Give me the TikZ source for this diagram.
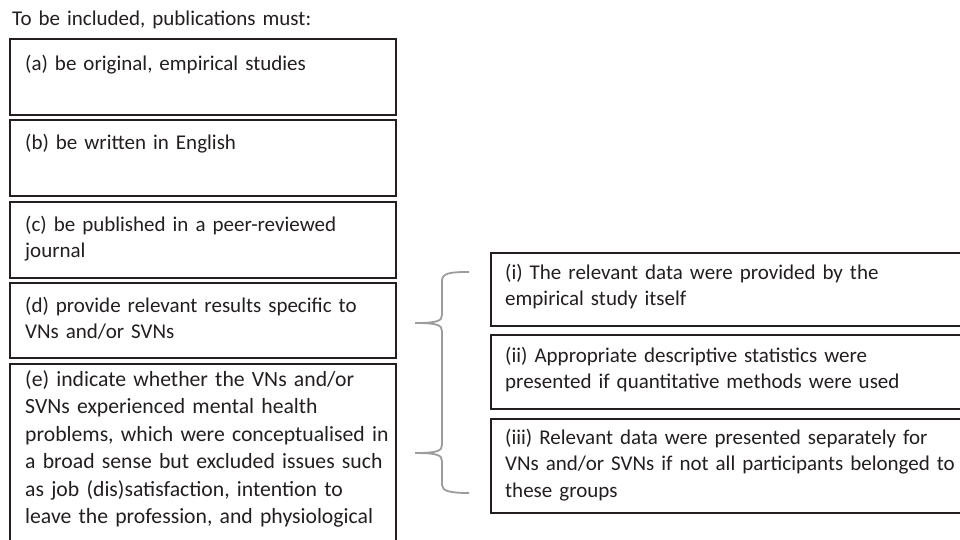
\documentclass[tikz,border=0pt]{standalone}
\usepackage{fontspec}
\setmainfont{Carlito}
\definecolor{ink}{HTML}{231F20}
\definecolor{bracegray}{HTML}{9C9C9C}
\begin{document}
\begin{tikzpicture}[x=1pt,y=-1pt,
  boxline/.style={draw=ink, line width=1.5pt},
  txt/.style={anchor=base west, inner sep=0pt, text width=460pt, align=left,
              font=\fontsize{21}{26.5}\selectfont, text=ink},
  bigtxt/.style={txt, font=\fontsize{21.7}{27.5}\selectfont},
  bracestyle/.style={draw=bracegray, line width=1.8pt}
]
\useasboundingbox (0,0) rectangle (960,540);
\fill[white] (0,0) rectangle (960,540);
\clip (0,0) rectangle (960,540);

% title
\node[txt] (title) at (12,26) {To be included, publications must:};

% left boxes
\draw[boxline] (10,39) rectangle (396,115);
\draw[boxline] (10,120) rectangle (396,196);
\draw[boxline] (10,202) rectangle (396,278);
\draw[boxline] (10,283) rectangle (396,358);
\draw[boxline] (10,550) -- (10,364) -- (396,364) -- (396,550);

\node[txt] (ta) at (25,71) {(a) be original, empirical studies};
\node[txt] (tb) at (25,150) {(b) be written in English};
\node[txt] (tc) at (25,231) {(c) be published in a peer-reviewed\\journal};
\node[txt] (td) at (25,312) {(d) provide relevant results specific to\\VNs and/or SVNs};
\node[bigtxt] (te) at (25,386) {(e) indicate whether the VNs and/or\\SVNs experienced mental health\\problems, which were conceptualised in\\a broad sense but excluded issues such\\as job (dis)satisfaction, intention to\\leave the profession, and physiological};

% right boxes
\draw[boxline] (491,253) rectangle (975,326);
\draw[boxline] (491,335) rectangle (975,409);
\draw[boxline] (491,419) rectangle (975,513);

\node[txt] (ti) at (505,279) {(i) The relevant data were provided by the\\empirical study itself};
\node[txt] (tii) at (505,362) {(ii) Appropriate descriptive statistics were\\presented if quantitative methods were used};
\node[txt] (tiii) at (505,444) {(iii) Relevant data were presented separately for\\VNs and/or SVNs if not all participants belonged to\\these groups};

% brace
\draw[bracestyle] (469,272) .. controls (450,272) and (442,273) .. (442,281)
  -- (442,315) .. controls (442,321) and (437,323) .. (415,323)
  .. controls (437,323) and (442,325) .. (442,331)
  -- (442,445) .. controls (442,451) and (437,453) .. (415,453)
  .. controls (437,453) and (442,455) .. (442,461)
  -- (442,485) .. controls (442,491) and (450,493) .. (469,493);
\end{tikzpicture}
\end{document}
